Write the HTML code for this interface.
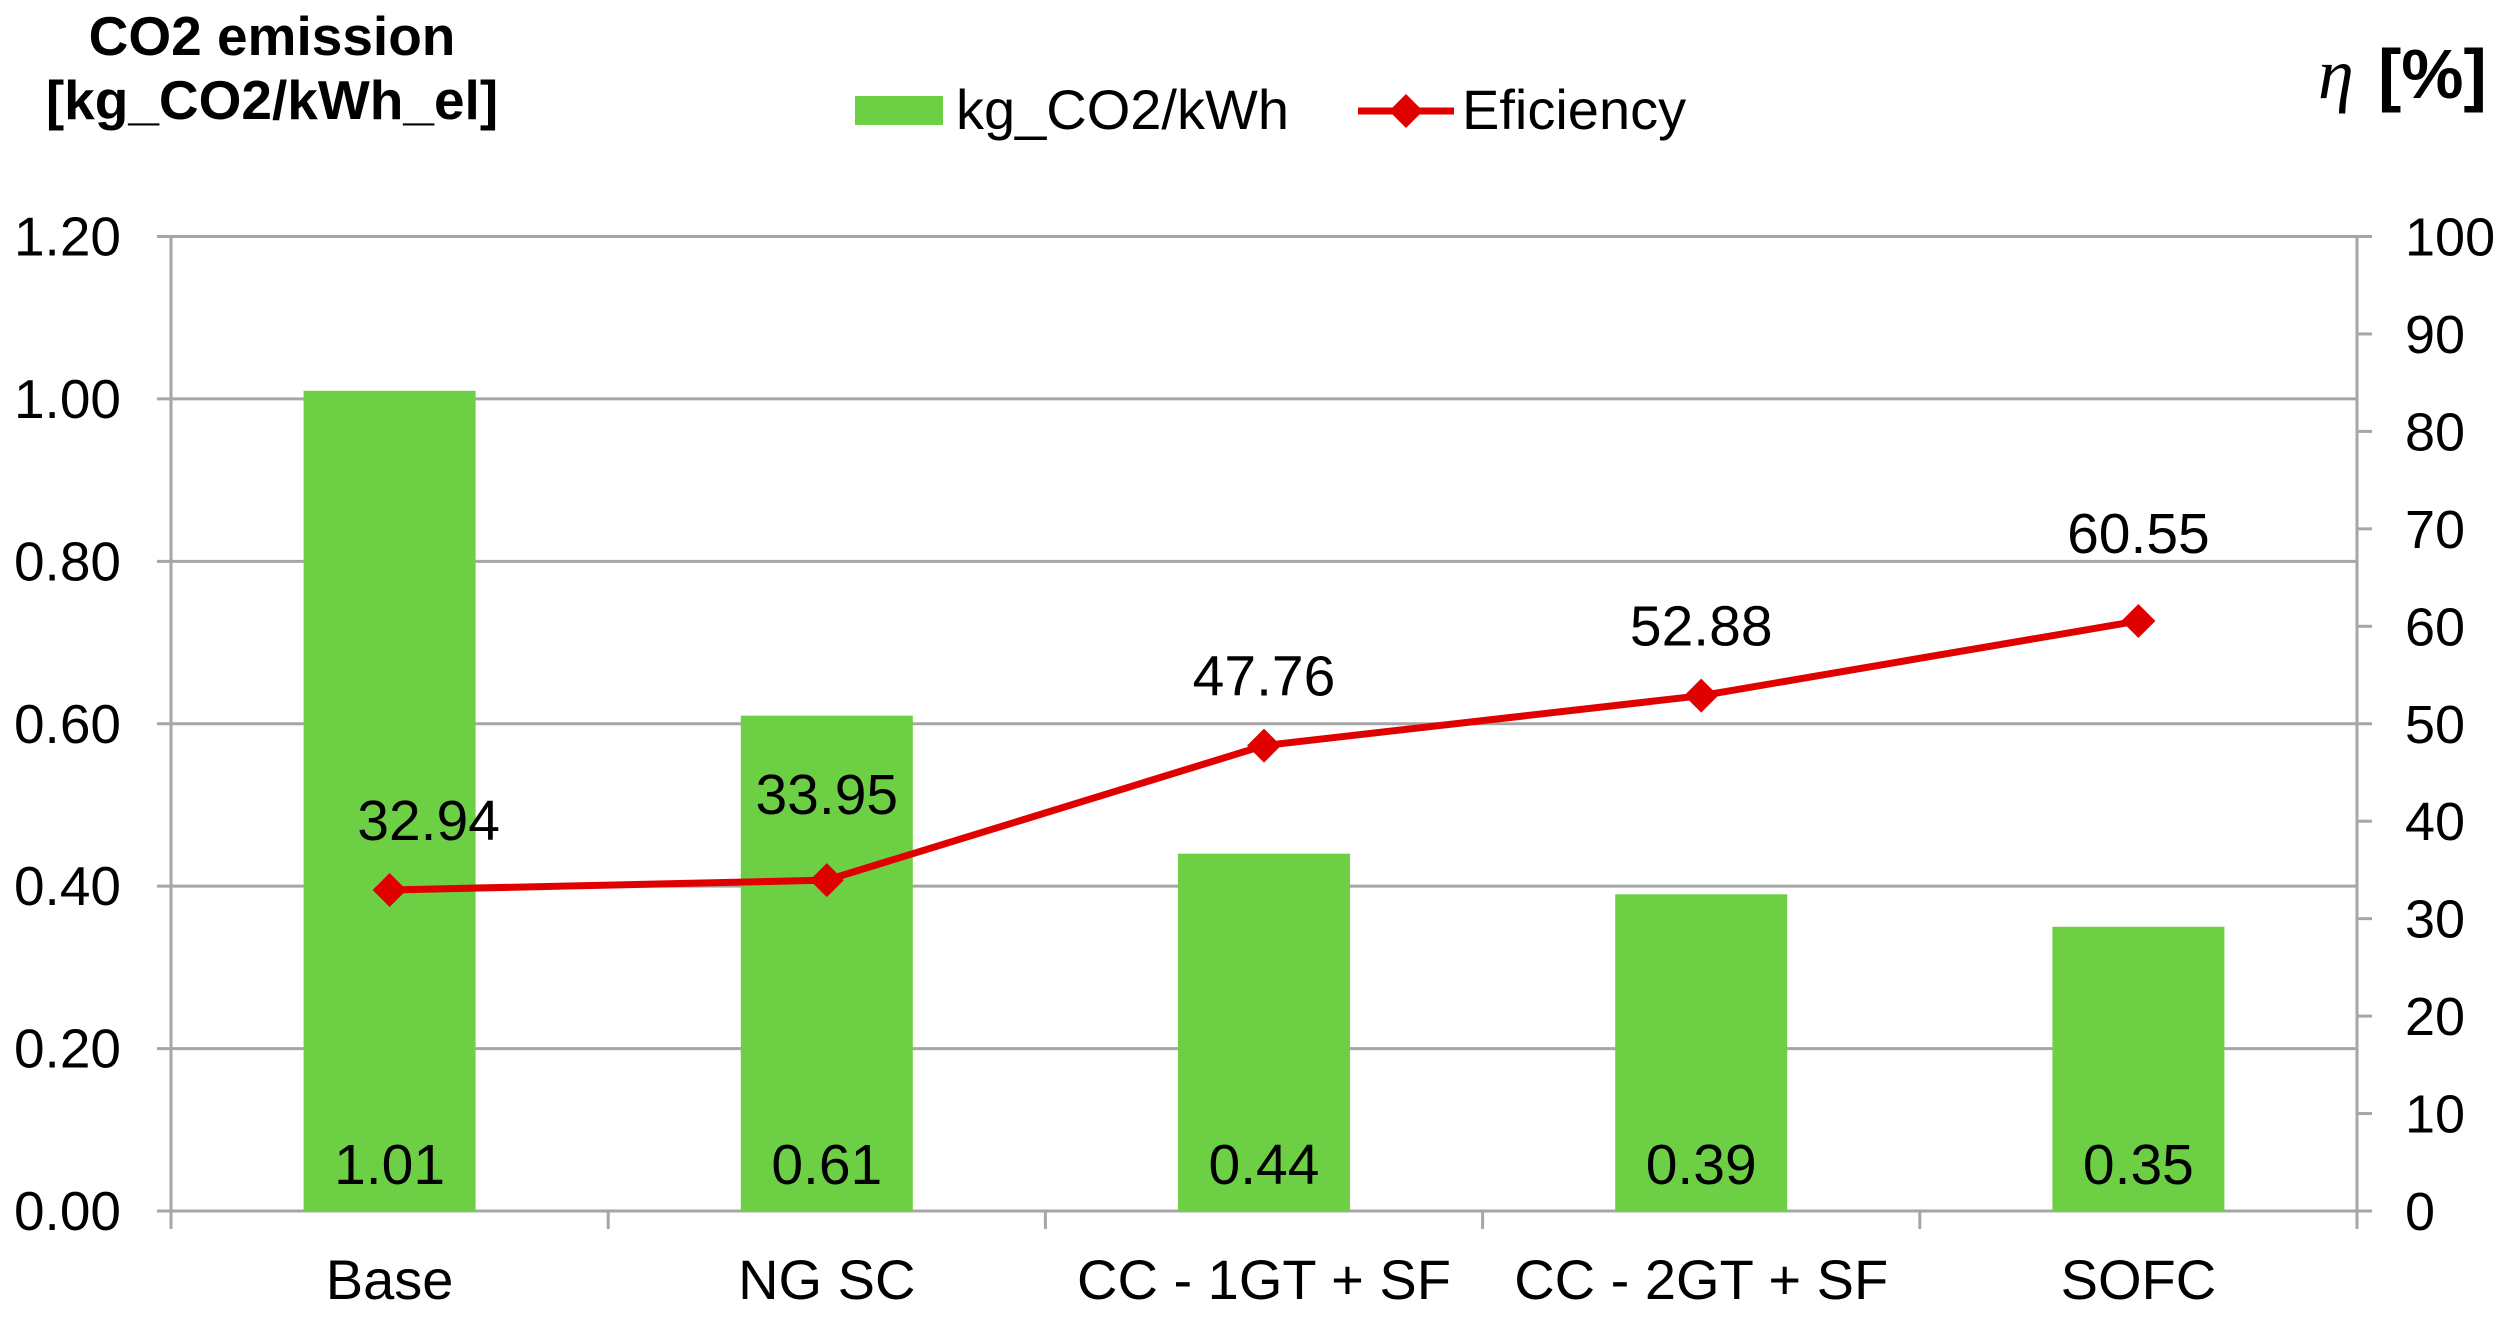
<!DOCTYPE html>
<html><head><meta charset="utf-8"><style>
html,body{margin:0;padding:0;background:#fff;}
svg{display:block;font-family:"Liberation Sans",Arial,sans-serif;}
</style></head><body>
<svg id="chart" width="2506" height="1320" viewBox="0 0 2506 1320" xmlns="http://www.w3.org/2000/svg">
<g font-weight="bold" font-size="55" text-anchor="middle" fill="#000">
<text x="272" y="55">CO2 emission</text>
<text x="272" y="119">[kg_CO2/kWh_el]</text>
</g>
<g fill="#000">
<text x="2318" y="98" font-size="72" font-family="Liberation Serif,serif" font-style="italic">η</text>
<text x="2378" y="98" font-size="70" font-weight="bold">[%]</text>
</g>
<g>
<rect x="855" y="96" width="88" height="29" fill="#6dd044"/>
<text x="956" y="129" font-size="56">kg_CO2/kWh</text>
<line x1="1358" y1="111" x2="1454" y2="111" stroke="#e00000" stroke-width="7"/>
<polygon points="1406,94 1423,111 1406,128 1389,111" fill="#e00000"/>
<text x="1462" y="129" font-size="56">Eficiency</text>
</g>
<g id="grid"></g><g id="bars"></g><g id="axes"></g><g id="line"></g><g id="labels"></g>
</svg>
<script>
const categories = ["Base","NG SC","CC - 1GT + SF","CC - 2GT + SF","SOFC"];
const co2Values = [1.01,0.61,0.44,0.39,0.35];
const efficiencyValues = [32.94,33.95,47.76,52.88,60.55];
const leftTicks = [0,0.2,0.4,0.6,0.8,1.0,1.2];
const rightTicks = [0,10,20,30,40,50,60,70,80,90,100];

const NS="http://www.w3.org/2000/svg";
const X0=171, X1=2357, Y0=1211, Y1=236.5;
const catW=(X1-X0)/categories.length;
const xC=i=>X0+catW*(i+0.5);
const yL=v=>Y0-(v/1.2)*(Y0-Y1);
const yR=v=>Y0-(v/100)*(Y0-Y1);
function mk(tag,attrs,parent,txt){const e=document.createElementNS(NS,tag);for(const k in attrs)e.setAttribute(k,attrs[k]);if(txt!==undefined)e.textContent=txt;document.getElementById(parent).appendChild(e);return e;}

leftTicks.forEach(t=>{
  const g=mk('line',{x1:157,x2:X1,y1:yL(t),y2:yL(t),stroke:'#a6a6a6','stroke-width':3},'grid');
  
  
  const l=mk('text',{x:121,y:yL(t)+19,'font-size':55,'text-anchor':'end'},'axes',t.toFixed(2));
  
  
});
rightTicks.forEach(t=>{
  const k=mk('line',{x1:X1,x2:X1+15,y1:yR(t),y2:yR(t),stroke:'#a6a6a6','stroke-width':3},'axes');
  
  
  const l=mk('text',{x:2405,y:yR(t)+19,'font-size':54},'axes',String(t));
  
  
});
const la=mk('line',{x1:X0,x2:X0,y1:Y1,y2:Y0+18,stroke:'#a6a6a6','stroke-width':3},'axes');


const ra=mk('line',{x1:X1,x2:X1,y1:Y1,y2:Y0+18,stroke:'#a6a6a6','stroke-width':3},'axes');


for(let i=1;i<categories.length;i++){
  const t=mk('line',{x1:X0+catW*i,x2:X0+catW*i,y1:Y0,y2:Y0+18,stroke:'#a6a6a6','stroke-width':3},'axes');
  
  
}
categories.forEach((c,i)=>{
  const l=mk('text',{x:xC(i),y:1299,'font-size':56,'text-anchor':'middle'},'axes',c);
  
  
});
co2Values.forEach((v,i)=>{
  const b=mk('rect',{x:xC(i)-86,y:yL(v),width:172,height:Y0-yL(v),fill:'#6dd044'},'bars');
  
  
  const l=mk('text',{x:xC(i),y:1184,'font-size':57,'text-anchor':'middle'},'labels',v.toFixed(2));
  
  
});
const pts=efficiencyValues.map((v,i)=>xC(i)+','+yR(v)).join(' ');
const pl=mk('polyline',{points:pts,fill:'none',stroke:'#e00000','stroke-width':7,'stroke-linejoin':'round'},'line');


efficiencyValues.forEach((v,i)=>{
  const x=xC(i),y=yR(v);
  const m=mk('polygon',{points:`${x},${y-17} ${x+17},${y} ${x},${y+17} ${x-17},${y}`,fill:'#e00000'},'line');
  
  
  const dx=i===0?39:0;
  const dy=i===4?68:(i===1?66:50);
  const l=mk('text',{x:x+dx,y:y-dy,'font-size':57,'text-anchor':'middle'},'labels',v.toFixed(2));
  
  
});
</script>
</body></html>
